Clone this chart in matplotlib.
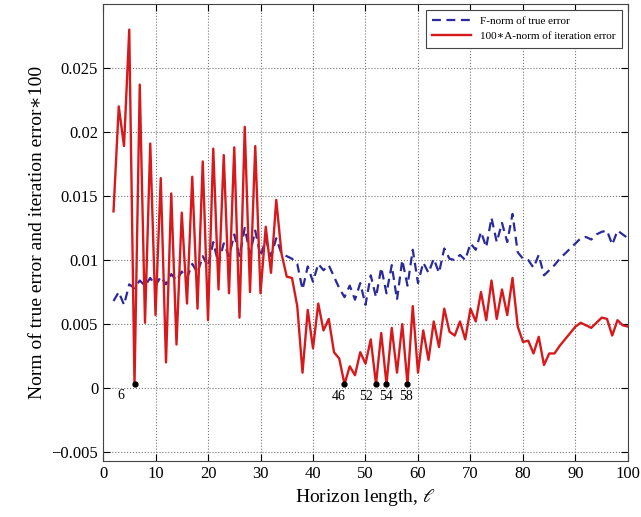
import matplotlib
matplotlib.use("Agg")
import matplotlib.pyplot as plt
import numpy as np
from matplotlib.ticker import FuncFormatter

plt.rcParams['font.family'] = ['Liberation Serif', 'DejaVu Serif']
plt.rcParams['mathtext.fontset'] = 'stix'

# Horizon lengths
horizon = list(range(2, 101))

# F-norm of true error (dashed blue)
f_norm = [0.0068, 0.0075, 0.0065, 0.0081, 0.0078, 0.0084, 0.0080, 0.0086, 0.0080, 0.0087,
          0.0081, 0.0089, 0.0084, 0.0091, 0.0086, 0.0097, 0.0090, 0.0103, 0.0095, 0.0114,
          0.0097, 0.0113, 0.0103, 0.0120, 0.0103, 0.0125, 0.0105, 0.0123, 0.0103, 0.0116,
          0.0103, 0.0117, 0.0105, 0.0103, 0.0101, 0.0097, 0.0077, 0.0095, 0.0083, 0.0097,
          0.0092, 0.0096, 0.0087, 0.0078, 0.0071, 0.0080, 0.0069, 0.0082, 0.0065, 0.0088,
          0.0071, 0.0094, 0.0074, 0.0096, 0.0069, 0.0100, 0.0080, 0.0108, 0.0082, 0.0098,
          0.0090, 0.0101, 0.0090, 0.0109, 0.0101, 0.0100, 0.0104, 0.0100, 0.0113, 0.0108,
          0.0122, 0.0110, 0.0133, 0.0114, 0.0129, 0.0114, 0.0136, 0.0106, 0.0101, 0.0100,
          0.0094, 0.0104, 0.0088, 0.0092, 0.0096, 0.0101, 0.0105, 0.0109, 0.0113, 0.0117,
          0.0118, 0.0116, 0.0120, 0.0122, 0.0123, 0.0112, 0.0123, 0.0120, 0.0117]

# 100*A-norm of iteration error (solid red)
a_norm = [0.0138, 0.0220, 0.0189, 0.0280, 0.0003, 0.0237, 0.0051, 0.0191, 0.0057, 0.0164,
          0.0020, 0.0152, 0.0034, 0.0137, 0.0066, 0.0165, 0.0062, 0.0177, 0.0053, 0.0187,
          0.0077, 0.0182, 0.0074, 0.0188, 0.0055, 0.0204, 0.0075, 0.0189, 0.0074, 0.0126,
          0.0090, 0.0147, 0.0105, 0.0087, 0.0086, 0.0064, 0.0012, 0.0061, 0.0031, 0.0066,
          0.0045, 0.0054, 0.0028, 0.0023, 0.0003, 0.0017, 0.0010, 0.0028, 0.0019, 0.0038,
          0.0003, 0.0043, 0.0003, 0.0047, 0.0012, 0.0050, 0.0003, 0.0064, 0.0012, 0.0045,
          0.0022, 0.0052, 0.0032, 0.0062, 0.0044, 0.0041, 0.0052, 0.0038, 0.0062, 0.0052,
          0.0075, 0.0053, 0.0084, 0.0054, 0.0077, 0.0057, 0.0086, 0.0048, 0.0036, 0.0037,
          0.0027, 0.0040, 0.0018, 0.0027, 0.0027, 0.0033, 0.0038, 0.0043, 0.0048, 0.0051,
          0.0049, 0.0047, 0.0051, 0.0055, 0.0054, 0.0041, 0.0053, 0.0049, 0.0048]

# Marked minima of the red curve
marked = [6, 46, 52, 54, 58]
label_shift = {6: (-10, -8), 46: (-4, -9), 52: (-7, -9), 54: (0, -9), 58: (-1, -9)}

fig = plt.figure(figsize=(6.41, 5.17), dpi=100)
ax = fig.add_axes([0.1607, 0.1083, 0.819, 0.884])

ax.plot(horizon, f_norm, '--', color='#2a2a9c', linewidth=1.6,
        dashes=(4, 2.5), label='F-norm of true error')
ax.plot(horizon, a_norm, '-', color='#d7191c', linewidth=1.7,
        label='100\u2217A-norm of iteration error')

my = [a_norm[horizon.index(h)] for h in marked]
ax.plot(marked, my, 'o', color='black', markersize=3.5, zorder=5)
for h, v in zip(marked, my):
    ax.annotate(str(h), (h, v), xytext=label_shift[h], textcoords='offset points',
                ha='center', va='center', fontsize=10)

ax.set_xlim(0, 100)
ax.set_ylim(-0.0057, 0.03)
ax.set_xticks(np.arange(0, 101, 10))
ax.set_yticks([-0.005, 0, 0.005, 0.01, 0.015, 0.02, 0.025])
ax.yaxis.set_major_formatter(FuncFormatter(lambda v, p: f'{v:g}'.replace('-', '\u2212')))
ax.tick_params(direction='in', top=True, right=True, labelsize=12, length=5)
ax.grid(True, linestyle=':', color='#777777', linewidth=0.8)

ax.set_xlabel(r'Horizon length, $\ell$', fontsize=14)
ax.set_ylabel('Norm of true error and iteration error\u2217100', fontsize=14)

leg = ax.legend(loc='upper right', fontsize=8, fancybox=False, edgecolor='#444444',
                framealpha=1, handlelength=3.5, borderpad=0.6)
leg.get_frame().set_linewidth(0.8)

for s in ax.spines.values():
    s.set_color('#444444')

fig.savefig('out.png', dpi=100)
